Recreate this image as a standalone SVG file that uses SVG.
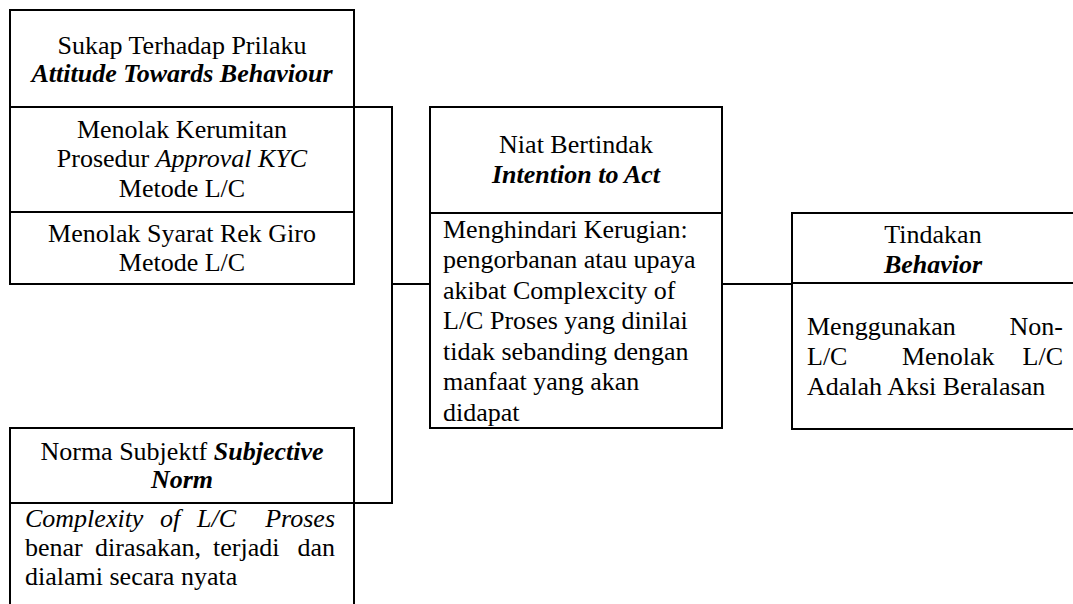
<svg xmlns="http://www.w3.org/2000/svg" width="1073" height="604" viewBox="0 0 1073 604">
<style>
.box{fill:#fff;stroke:#000;stroke-width:2}
.div{stroke:#000;stroke-width:2}
.conn{fill:none;stroke:#000;stroke-width:2}
.c{text-anchor:middle}
.e{text-anchor:end}
.bi{font-weight:bold;font-style:italic}
.i{font-style:italic}
</style>
<g id="connectors">
<path class="conn" d="M354,107 H392 V503 H354"/>
<path class="conn" d="M392,284 H430"/>
<path class="conn" d="M722,284 H792"/>
</g>
<g font-family="Liberation Serif, Times New Roman, Times, serif" font-size="26" fill="#000">
<g id="attitude">
<rect class="box" x="10" y="10" width="344" height="274"/>
<line class="div" x1="10" y1="107" x2="354" y2="107"/>
<line class="div" x1="10" y1="212" x2="354" y2="212"/>
<text class="c" x="182" y="54">Sukap Terhadap Prilaku</text>
<text class="c bi" x="182" y="82">Attitude Towards Behaviour</text>
<text class="c" x="182" y="138">Menolak Kerumitan</text>
<text class="c" x="182" y="167">Prosedur <tspan class="i">Approval KYC</tspan></text>
<text class="c" x="182" y="197">Metode L/C</text>
<text class="c" x="182" y="242">Menolak Syarat Rek Giro</text>
<text class="c" x="182" y="271">Metode L/C</text>
</g>
<g id="norm">
<rect class="box" x="10" y="428" width="344" height="190"/>
<line class="div" x1="10" y1="503" x2="354" y2="503"/>
<text class="c" x="182" y="460">Norma Subjektf <tspan class="bi">Subjective</tspan></text>
<text class="c bi" x="182" y="488">Norm</text>
<text class="i" y="527"><tspan x="25">Complexity</tspan><tspan x="160">of</tspan><tspan x="197">L/C</tspan><tspan x="335" text-anchor="end">Proses</tspan></text>
<text y="556"><tspan x="25">benar</tspan><tspan x="95">dirasakan,</tspan><tspan x="213">terjadi</tspan><tspan x="335" text-anchor="end">dan</tspan></text>
<text x="25" y="585">dialami secara nyata</text>
</g>
<g id="intention">
<rect class="box" x="430" y="107" width="292" height="321"/>
<line class="div" x1="430" y1="213" x2="722" y2="213"/>
<text class="c" x="576" y="153">Niat Bertindak</text>
<text class="c bi" x="576" y="183">Intention to Act</text>
<text x="443" y="238">Menghindari Kerugian:</text>
<text x="443" y="268">pengorbanan atau upaya</text>
<text x="443" y="299">akibat Complexcity of</text>
<text x="443" y="329">L/C Proses yang dinilai</text>
<text x="443" y="360">tidak sebanding dengan</text>
<text x="443" y="390">manfaat yang akan</text>
<text x="443" y="421">didapat</text>
</g>
<g id="behavior">
<rect class="box" x="792" y="213" width="290" height="216"/>
<line class="div" x1="792" y1="283" x2="1082" y2="283"/>
<text class="c" x="933" y="243">Tindakan</text>
<text class="c bi" x="933" y="273">Behavior</text>
<text y="335"><tspan x="807">Menggunakan</tspan><tspan x="1063" text-anchor="end">Non-</tspan></text>
<text y="365"><tspan x="807">L/C</tspan><tspan x="902">Menolak</tspan><tspan x="1063" text-anchor="end">L/C</tspan></text>
<text x="807" y="395">Adalah Aksi Beralasan</text>
</g>
</g>
</svg>
